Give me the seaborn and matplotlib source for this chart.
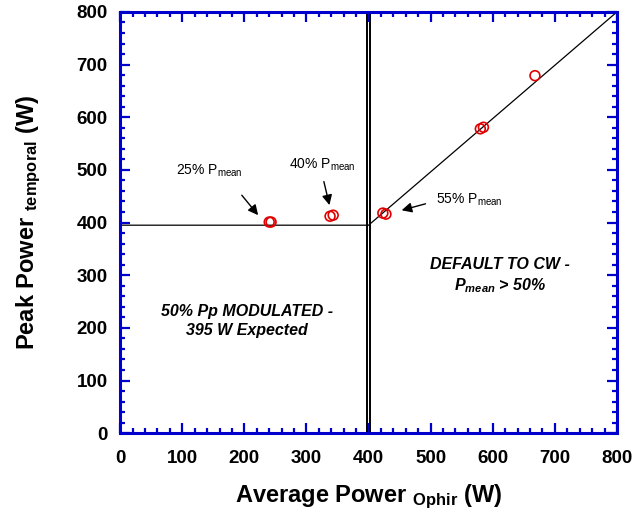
import matplotlib
matplotlib.use("Agg")
import matplotlib.pyplot as plt
import seaborn as sns
import pandas as pd
from matplotlib.ticker import MultipleLocator

# ---- data ----
avg_power = [240, 243, 338, 343, 423, 428, 580, 585, 668]
peak_power = [401, 401, 412, 414, 418, 416, 578, 581, 679]
fit_x = [0, 400, 800]
fit_y = [395, 395, 800]
divider_x = [397.6, 402.4]
x_ticks = [0, 100, 200, 300, 400, 500, 600, 700, 800]
y_ticks = [0, 100, 200, 300, 400, 500, 600, 700, 800]
annot_labels = ["25% P", "40% P", "55% P"]
annot_text_xy = [(90, 498), (272, 509), (509, 443)]
annot_tail_xy = [(193, 456), (327, 483), (496, 437)]
annot_head_xy = [(225, 410), (338, 428), (449, 422)]

sns.set_style("white")
plt.rcParams["font.family"] = ["Liberation Sans", "DejaVu Sans"]
plt.rcParams["mathtext.fontset"] = "custom"
plt.rcParams["mathtext.rm"] = "Liberation Sans"
plt.rcParams["mathtext.it"] = "Liberation Sans:italic"
plt.rcParams["mathtext.bf"] = "Liberation Sans:bold"
plt.rcParams["mathtext.bfit"] = "Liberation Sans:bold:italic"
plt.rcParams["text.color"] = "black"
plt.rcParams["axes.labelcolor"] = "black"
plt.rcParams["xtick.labelcolor"] = "black"
plt.rcParams["ytick.labelcolor"] = "black"

BLUE = "#0000CC"

fig = plt.figure(figsize=(6.36, 5.20), dpi=100)
ax = fig.add_axes([0.189, 0.167, 0.781, 0.810])

df_pts = pd.DataFrame({"avg": avg_power, "peak": peak_power})
df_fit = pd.DataFrame({"x": fit_x, "y": fit_y})

sns.lineplot(data=df_fit, x="x", y="y", sort=False, color="black", lw=0.9, ax=ax, zorder=2)
for xv in divider_x:
    ax.axvline(xv, color="black", lw=1.4, zorder=2)
sns.scatterplot(data=df_pts, x="avg", y="peak", marker="o", s=50,
                facecolor="none", edgecolor="#E00000", linewidth=1.2, ax=ax, zorder=3)

ax.set_xlim(0, 800)
ax.set_ylim(0, 800)
ax.set_xticks(x_ticks)
ax.set_yticks(y_ticks)
ax.xaxis.set_minor_locator(MultipleLocator(20))
ax.yaxis.set_minor_locator(MultipleLocator(20))
ax.tick_params(which="both", direction="in", top=True, right=True, bottom=True, left=True,
               color=BLUE)
ax.tick_params(which="major", length=7, width=1.6, labelsize=13.5)
ax.tick_params(axis="x", which="major", pad=12)
ax.tick_params(axis="y", which="major", pad=9)
ax.tick_params(which="minor", length=3.5, width=1.6)
for lab in ax.get_xticklabels() + ax.get_yticklabels():
    lab.set_fontweight("bold")
for sp in ax.spines.values():
    sp.set_color(BLUE)
    sp.set_linewidth(2.2)

ax.set_xlabel("Average Power " + r"$_{\mathbf{Ophir}}$" + " (W)", fontsize=17,
              fontweight="bold", labelpad=11)
ax.set_ylabel("Peak Power " + r"$_{\mathbf{temporal}}$" + " (W)", fontsize=17,
              fontweight="bold", labelpad=24)

for lab, txy, tail, head in zip(annot_labels, annot_text_xy, annot_tail_xy, annot_head_xy):
    ax.text(txy[0], txy[1], lab + r"$_{\mathrm{mean}}$", fontsize=10, ha="left", va="center")
    ax.annotate("", xy=head, xytext=tail,
                arrowprops=dict(arrowstyle="-|>", color="black", lw=1.0, mutation_scale=15))

ax.text(204, 213, "50% Pp MODULATED -\n395 W Expected",
        fontsize=11.5, fontweight="bold", fontstyle="italic",
        ha="center", va="center", linespacing=1.3)
ax.text(612, 298, "DEFAULT TO CW -\nP" + r"$_{\mathbfit{mean}}$" + " > 50%",
        fontsize=11.5, fontweight="bold", fontstyle="italic",
        ha="center", va="center", linespacing=1.3)

fig.savefig("out.png", dpi=100)
